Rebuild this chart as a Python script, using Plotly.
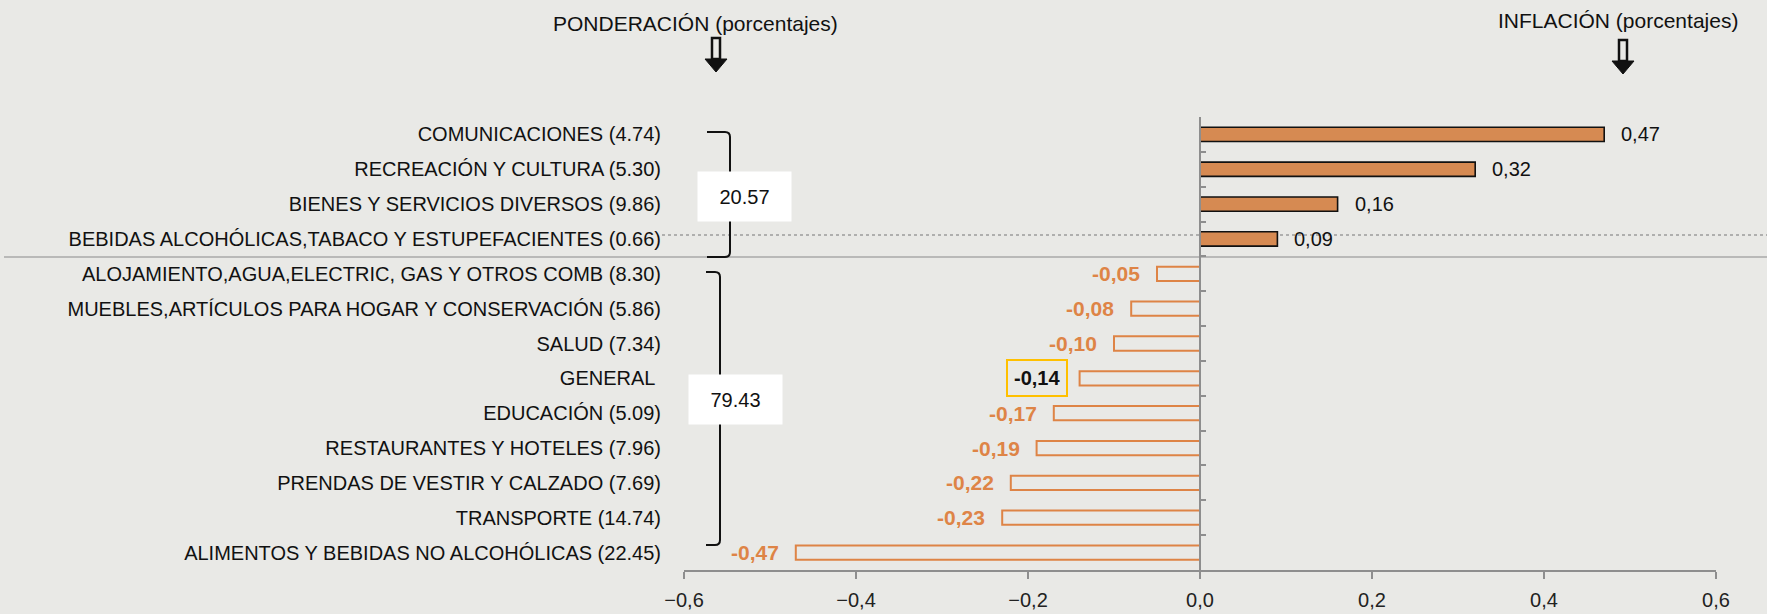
import plotly.graph_objects as go

categories = [
    "COMUNICACIONES (4.74)",
    "RECREACIÓN Y CULTURA (5.30)",
    "BIENES Y SERVICIOS DIVERSOS (9.86)",
    "BEBIDAS ALCOHÓLICAS,TABACO Y ESTUPEFACIENTES (0.66)",
    "ALOJAMIENTO,AGUA,ELECTRIC, GAS Y OTROS COMB (8.30)",
    "MUEBLES,ARTÍCULOS PARA HOGAR Y CONSERVACIÓN (5.86)",
    "SALUD (7.34)",
    "GENERAL\u00a0",
    "EDUCACIÓN (5.09)",
    "RESTAURANTES Y HOTELES (7.96)",
    "PRENDAS DE VESTIR Y CALZADO (7.69)",
    "TRANSPORTE (14.74)",
    "ALIMENTOS Y BEBIDAS NO ALCOHÓLICAS (22.45)",
]
inflation = [0.47, 0.32, 0.16, 0.09, -0.05, -0.08, -0.10, -0.14, -0.17, -0.19, -0.22, -0.23, -0.47]
value_labels = ["0,47", "0,32", "0,16", "0,09", "-0,05", "-0,08", "-0,10", "-0,14",
                "-0,17", "-0,19", "-0,22", "-0,23", "-0,47"]
general_index = 7
x_ticks = [-0.6, -0.4, -0.2, 0.0, 0.2, 0.4, 0.6]
group_totals = ["20.57", "79.43"]

FONT = "Liberation Sans, Arial, sans-serif"
ORANGE = "#DE8446"
POS_FILL = "#D68A52"
BG = "#E9E9E6"

W, H = 1767, 614
L, R, T, B = 684, 1716, 117, 570


def px(x):
    return (x - L) / (R - L)


def py(y):
    return (B - y) / (B - T)


fill_colors = [POS_FILL if v >= 0 else "rgba(0,0,0,0)" for v in inflation]
line_colors = ["#111111" if v >= 0 else ORANGE for v in inflation]
line_widths = [1.6 if v >= 0 else 2 for v in inflation]

fig = go.Figure()
fig.add_trace(go.Bar(
    x=inflation, y=categories, orientation="h", width=0.41,
    marker=dict(color=fill_colors, line=dict(color=line_colors, width=line_widths)),
    hoverinfo="skip", showlegend=False,
))
fig.add_trace(go.Scatter(
    x=[0], y=[0], yaxis="y2", mode="markers", marker=dict(opacity=0),
    hoverinfo="skip", showlegend=False,
))

annotations = []
for i, (c, v, t) in enumerate(zip(categories, inflation, value_labels)):
    if v >= 0:
        annotations.append(dict(x=v, y=c, xref="x", yref="y", text=t, showarrow=False,
                                xanchor="left", xshift=15,
                                font=dict(family=FONT, size=20, color="#111111")))
    elif i == general_index:
        annotations.append(dict(x=v, y=c, xref="x", yref="y", text="<b>" + t + "</b>", showarrow=False,
                                xanchor="right", xshift=-12, bordercolor="#FFC000", borderwidth=2,
                                borderpad=6, font=dict(family=FONT, size=20, color="#111111")))
    else:
        annotations.append(dict(x=v, y=c, xref="x", yref="y", text="<b>" + t + "</b>", showarrow=False,
                                xanchor="right", xshift=-15,
                                font=dict(family=FONT, size=21, color=ORANGE)))

# titles
annotations.append(dict(x=px(695), y=py(23), xref="paper", yref="paper", text="PONDERACIÓN (porcentajes)",
                        showarrow=False, xanchor="center", yanchor="middle",
                        font=dict(family=FONT, size=21, color="#111111")))
annotations.append(dict(x=px(1618), y=py(20), xref="paper", yref="paper", text="INFLACIÓN (porcentajes)",
                        showarrow=False, xanchor="center", yanchor="middle",
                        font=dict(family=FONT, size=21, color="#111111")))
# group total boxes
for txt, cx, cy in [(group_totals[0], 744, 196.5), (group_totals[1], 735.5, 399.5)]:
    annotations.append(dict(x=px(cx), y=py(cy), xref="paper", yref="paper", text=txt, showarrow=False,
                            xanchor="center", yanchor="middle", width=93, height=49, bgcolor="white",
                            borderpad=0, font=dict(family=FONT, size=20, color="#111111")))

shapes = []
# horizontal separator lines
shapes.append(dict(type="line", xref="paper", yref="paper", x0=px(4), x1=px(1767), y0=py(257), y1=py(257),
                   line=dict(color="#A9A9A9", width=1.5), layer="below"))
shapes.append(dict(type="line", xref="paper", yref="paper", x0=px(662), x1=px(1767), y0=py(235), y1=py(235),
                   line=dict(color="#9C9C9C", width=1.5, dash="dot"), layer="below"))


def bracket(xv, xs, y0, y1):
    r = 5
    return (f"M {px(xs)} {py(y0)} L {px(xv - r)} {py(y0)} Q {px(xv)} {py(y0)} {px(xv)} {py(y0 + r)} "
            f"L {px(xv)} {py(y1 - r)} Q {px(xv)} {py(y1)} {px(xv - r)} {py(y1)} L {px(xs)} {py(y1)}")


shapes.append(dict(type="path", xref="paper", yref="paper", path=bracket(730, 707, 132, 257),
                   line=dict(color="#111111", width=2)))
shapes.append(dict(type="path", xref="paper", yref="paper", path=bracket(720, 706, 272, 545),
                   line=dict(color="#111111", width=2)))


def arrow(cx, ty, by):
    shaft = (f"M {px(cx - 4)} {py(ty)} L {px(cx + 4)} {py(ty)} L {px(cx + 4)} {py(ty + 21)} "
             f"L {px(cx - 4)} {py(ty + 21)} Z")
    head = (f"M {px(cx - 11)} {py(ty + 21)} L {px(cx + 11)} {py(ty + 21)} L {px(cx)} {py(by)} Z")
    return [dict(type="path", xref="paper", yref="paper", path=shaft, line=dict(color="#111111", width=2.5)),
            dict(type="path", xref="paper", yref="paper", path=head, fillcolor="#111111",
                 line=dict(color="#111111", width=1))]


shapes += arrow(716, 38, 72)
shapes += arrow(1623, 40, 74)

n = len(categories)
fig.update_layout(
    width=W, height=H,
    margin=dict(l=L, r=W - R, t=T, b=H - B, pad=0, autoexpand=False),
    paper_bgcolor=BG, plot_bgcolor="rgba(0,0,0,0)",
    separators=",.",
    font=dict(family=FONT, color="#111111"),
    bargap=0.59,
    xaxis=dict(range=[-0.6, 0.6], tickvals=x_ticks, tickformat=".1f", showgrid=False, zeroline=False,
               showline=True, linecolor="#8E8E8E", linewidth=1.5, ticks="outside", ticklen=7,
               tickcolor="#8E8E8E", tickwidth=1.5, ticklabelstandoff=4, automargin=False,
               tickfont=dict(family=FONT, size=20, color="#222222"), fixedrange=True),
    yaxis=dict(type="category", categoryorder="array", categoryarray=categories, range=[n - 0.5, -0.5],
               showgrid=False, zeroline=False, showline=False, ticks="", ticklabelstandoff=22,
               automargin=False,
               tickfont=dict(family=FONT, size=20, color="#111111"), fixedrange=True),
    yaxis2=dict(overlaying="y", anchor="free", position=0.5, side="left", range=[n - 0.5, -0.5],
                tickvals=[i - 0.5 for i in range(n + 1)], ticks="inside", ticklen=5, tickwidth=1.5,
                tickcolor="#8E8E8E", showticklabels=False, showgrid=False, zeroline=False,
                showline=True, linecolor="#8E8E8E", linewidth=1.5, fixedrange=True, automargin=False),
    annotations=annotations,
    shapes=shapes,
)

fig.write_html("out.html", config={"displayModeBar": False},
               post_script="document.body.style.margin='0';document.body.style.background='" + BG + "';")
